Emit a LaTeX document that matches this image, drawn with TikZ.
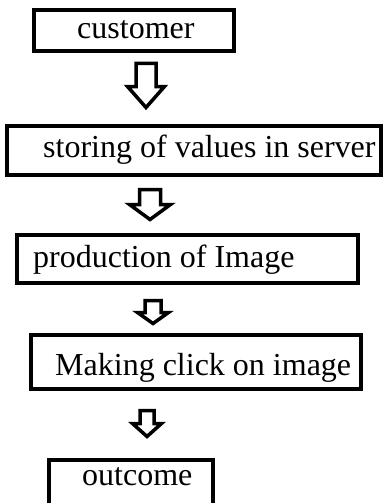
\documentclass[tikz,border=0pt]{standalone}
\usepackage{fontspec}
\setmainfont{Liberation Serif}
\begin{document}
\begin{tikzpicture}[x=1pt,y=-1pt,
  box/.style={draw=black, line width=4pt, rectangle, inner sep=0pt, outer sep=0pt},
  lbl/.style={anchor=base west, inner sep=0pt, font=\fontsize{32}{38}\selectfont},
  blk/.style={draw=black, line width=3.5pt, line join=miter, fill=white}]
\useasboundingbox (0,0) rectangle (383,503);
\newcommand\blockarr[6]{%
  \draw[blk] ({#1-#2},#4) -- ({#1+#2},#4) -- ({#1+#2},#5) -- ({#1+#3},#5)
    -- (#1,#6) -- ({#1-#3},#5) -- ({#1-#2},#5) -- cycle;}
% boxes
\node[box, minimum width=200pt, minimum height=41pt] (b1) at (134,30.5) {};
\node[box, minimum width=374pt, minimum height=49pt] (b2) at (194,150.5) {};
\node[box, minimum width=341pt, minimum height=48pt] (b3) at (187.5,259) {};
\node[box, minimum width=330pt, minimum height=54pt] (b4) at (196,362) {};
\node[box, minimum width=164pt, minimum height=50pt] (b5) at (131,485) {};
% labels
\node[lbl] (t1) at (77,39) {customer};
\node[lbl] (t2) at (43,157) {storing of values in server};
\node[lbl] (t3) at (33,267) {production of Image};
\node[lbl] (t4) at (55,375) {Making click on image};
\node[lbl] (t5) at (82,485) {outcome};
% block arrows
\blockarr{146}{10}{18.5}{63.5}{86.5}{107.5}
\blockarr{150}{10.5}{20.5}{189.5}{204.5}{219.5}
\blockarr{153}{8}{15.5}{300.5}{312.5}{323.5}
\blockarr{147}{7}{14.5}{410.5}{423.5}{436.5}
\end{tikzpicture}
\end{document}
